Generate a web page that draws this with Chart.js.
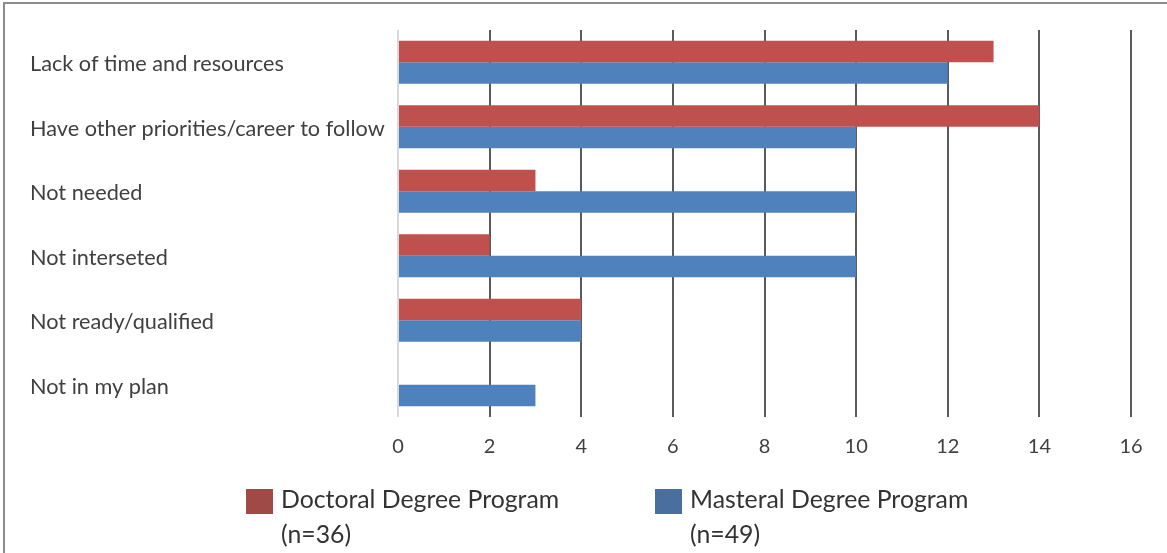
<!DOCTYPE html>
<html>
<head>
<meta charset="utf-8">
<script src="https://cdn.jsdelivr.net/npm/chart.js@4/dist/chart.umd.min.js"></script>
<style>
  html, body { margin: 0; padding: 0; background: #fff; }
  #wrap { width: 1167px; height: 553px; position: relative; }
</style>
</head>
<body>
<div id="wrap"><canvas id="c" width="1167" height="553"></canvas></div>
<script>
// Reasons given for not pursuing further study
const categories = [
  'Lack of time and resources',
  'Have other priorities/career to follow',
  'Not needed',
  'Not interseted',
  'Not ready/qualified',
  'Not in my plan'
];
const doctoralValues = [13, 14, 3, 2, 4, 0];
const masteralValues = [12, 10, 10, 10, 4, 3];
const doctoralLegend = ['Doctoral Degree Program', '(n=36)'];
const masteralLegend = ['Masteral Degree Program', '(n=49)'];
const xTicks = [0, 2, 4, 6, 8, 10, 12, 14, 16];

const FONT = 'Lato, "Open Sans", sans-serif';

// Frame lines and white background behind the chart
const framePlugin = {
  id: 'frame',
  beforeDraw(chart) {
    const ctx = chart.ctx;
    ctx.save();
    ctx.fillStyle = '#ffffff';
    ctx.fillRect(0, 0, chart.width, chart.height);
    ctx.strokeStyle = '#8c8c8c';
    ctx.lineWidth = 2;
    ctx.beginPath();
    ctx.moveTo(4, chart.height);
    ctx.lineTo(4, 3);
    ctx.lineTo(chart.width, 3);
    ctx.stroke();
    ctx.restore();
  }
};

// Two-line legend under the axis
const legendPlugin = {
  id: 'twoLineLegend',
  afterDraw(chart) {
    const ctx = chart.ctx;
    const items = [
      { x: 246, lines: doctoralLegend, color: '#A04A48' },
      { x: 655, lines: masteralLegend, color: '#4A6F9E' }
    ];
    ctx.save();
    ctx.font = '24.8px ' + FONT;
    ctx.textBaseline = 'middle';
    ctx.textAlign = 'left';
    items.forEach(it => {
      ctx.fillStyle = it.color;
      ctx.fillRect(it.x, 489, 27, 25);
      ctx.fillStyle = '#333333';
      it.lines.forEach((t, i) => ctx.fillText(t, it.x + 35, 500 + i * 35));
    });
    ctx.restore();
  }
};

new Chart(document.getElementById('c'), {
  type: 'bar',
  data: {
    labels: categories,
    datasets: [
      { label: doctoralLegend.join(' '), data: doctoralValues, backgroundColor: '#C0504D' },
      { label: masteralLegend.join(' '), data: masteralValues, backgroundColor: '#4F81BD' }
    ]
  },
  options: {
    indexAxis: 'y',
    responsive: false,
    animation: false,
    layout: { padding: { left: 30, top: 30, right: 36, bottom: 0 } },
    datasets: { bar: { categoryPercentage: 0.667, barPercentage: 1.0 } },
    plugins: { legend: { display: false }, tooltip: { enabled: false } },
    scales: {
      x: {
        min: 0, max: 16,
        afterFit(scale) { scale.height = 136; },
        afterBuildTicks(scale) { scale.ticks = xTicks.map(v => ({ value: v })); },
        border: { display: false },
        grid: {
          drawTicks: false,
          lineWidth: 2,
          color: ctx => (ctx.tick && ctx.tick.value === 0) ? '#d9d9d9' : '#5a5a5a'
        },
        ticks: { padding: 18, color: '#404040', font: { family: FONT, size: 20 } }
      },
      y: {
        afterFit(scale) { scale.width = 368; },
        border: { display: false },
        grid: { display: false },
        ticks: {
          crossAlign: 'far',
          labelOffset: 2,
          color: '#404040',
          font: { family: FONT, size: 21.7 }
        }
      }
    }
  },
  plugins: [framePlugin, legendPlugin]
});
</script>
</body>
</html>
